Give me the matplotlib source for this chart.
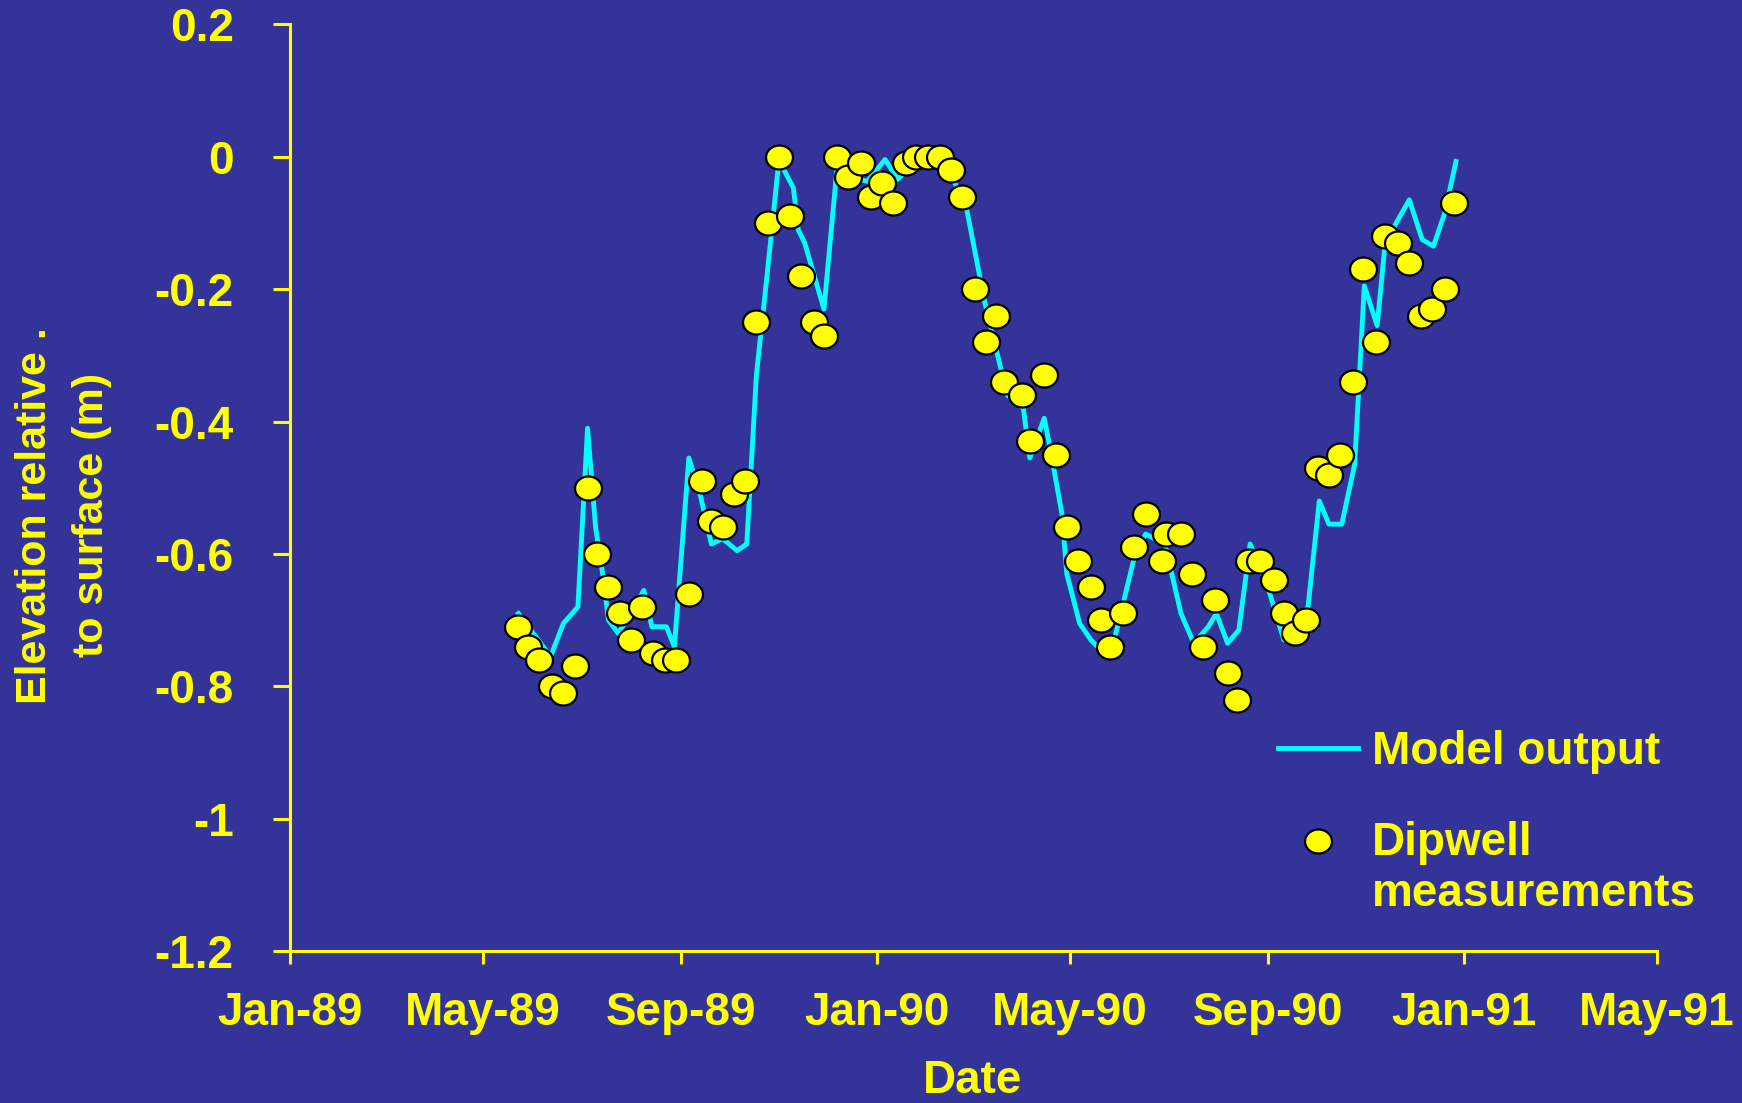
import matplotlib
matplotlib.use("Agg")
import matplotlib.pyplot as plt
import matplotlib.dates as mdates
import numpy as np
import pandas as pd

# colours from the slide
BG = "#333399"
YELLOW = "#FFFF00"
CYAN = "#00FFFF"

# model output (vertices of the simulated curve)
model_dates = [
    "1989-05-23", "1989-06-12", "1989-06-20", "1989-06-29", "1989-07-05", "1989-07-10",
    "1989-07-15", "1989-07-18", "1989-07-24", "1989-08-01", "1989-08-09", "1989-08-14",
    "1989-08-23", "1989-08-28", "1989-09-06", "1989-09-13", "1989-09-20", "1989-09-27",
    "1989-10-06", "1989-10-12", "1989-10-18", "1989-10-25", "1989-11-01", "1989-11-10",
    "1989-11-13", "1989-11-17", "1989-11-29", "1989-12-07", "1989-12-14", "1989-12-26",
    "1990-01-06", "1990-01-14", "1990-01-23", "1990-02-09", "1990-02-18", "1990-02-26",
    "1990-03-09", "1990-03-18", "1990-03-23", "1990-04-02", "1990-04-06", "1990-04-15",
    "1990-04-19", "1990-04-26", "1990-04-29", "1990-05-07", "1990-05-14", "1990-05-18",
    "1990-05-29", "1990-06-10", "1990-06-17", "1990-06-29", "1990-07-09", "1990-07-17",
    "1990-07-26", "1990-07-31", "1990-08-07", "1990-08-14", "1990-08-21", "1990-09-01",
    "1990-09-11", "1990-09-26", "1990-10-03", "1990-10-09", "1990-10-17", "1990-10-25",
    "1990-10-31", "1990-11-08", "1990-11-13", "1990-11-21", "1990-11-28", "1990-12-06",
    "1990-12-13", "1990-12-20", "1990-12-27",
]
model_level = [
    -0.69, -0.755, -0.705, -0.68, -0.41, -0.56,
    -0.64, -0.70, -0.72, -0.69, -0.655, -0.71,
    -0.71, -0.74, -0.455, -0.51, -0.585, -0.577,
    -0.595, -0.585, -0.33, -0.17, -0.005, -0.047,
    -0.11, -0.13, -0.23, -0.02, -0.03, -0.037,
    -0.004, -0.034, -0.01, -0.01, -0.037, -0.082,
    -0.22, -0.31, -0.36, -0.38, -0.455, -0.395,
    -0.445, -0.54, -0.63, -0.705, -0.73, -0.74,
    -0.725, -0.605, -0.57, -0.585, -0.69, -0.735,
    -0.71, -0.69, -0.735, -0.715, -0.585, -0.65,
    -0.73, -0.68, -0.52, -0.555, -0.555, -0.465,
    -0.195, -0.255, -0.13, -0.095, -0.065, -0.125,
    -0.135, -0.085, -0.007,
]

# dipwell readings
dip_dates = [
    "1989-05-23", "1989-05-29", "1989-06-05", "1989-06-13", "1989-06-20", "1989-06-27",
    "1989-07-05", "1989-07-11", "1989-07-18", "1989-07-25", "1989-08-01", "1989-08-08",
    "1989-08-15", "1989-08-22", "1989-08-29", "1989-09-06", "1989-09-14", "1989-09-20",
    "1989-09-27", "1989-10-04", "1989-10-11", "1989-10-18", "1989-10-25", "1989-11-01",
    "1989-11-08", "1989-11-15", "1989-11-23", "1989-11-29", "1989-12-07", "1989-12-14",
    "1989-12-22", "1989-12-28", "1990-01-04", "1990-01-11", "1990-01-19", "1990-01-25",
    "1990-02-02", "1990-02-09", "1990-02-16", "1990-02-23", "1990-03-03", "1990-03-10",
    "1990-03-16", "1990-03-21", "1990-04-01", "1990-04-06", "1990-04-15", "1990-04-22",
    "1990-04-29", "1990-05-06", "1990-05-14", "1990-05-20", "1990-05-26", "1990-06-03",
    "1990-06-10", "1990-06-17", "1990-06-27", "1990-06-30", "1990-07-09", "1990-07-16",
    "1990-07-23", "1990-07-30", "1990-08-07", "1990-08-13", "1990-08-20", "1990-08-27",
    "1990-09-05", "1990-09-11", "1990-09-18", "1990-09-25", "1990-10-02", "1990-10-09",
    "1990-10-16", "1990-10-24", "1990-10-30", "1990-11-07", "1990-11-13", "1990-11-21",
    "1990-11-28", "1990-12-05", "1990-12-12", "1990-12-20", "1990-12-26",
]
dip_level = [
    -0.71, -0.74, -0.76, -0.80, -0.81, -0.77,
    -0.50, -0.60, -0.65, -0.69, -0.73, -0.68,
    -0.75, -0.76, -0.76, -0.66, -0.49, -0.55,
    -0.56, -0.51, -0.49, -0.25, -0.10, 0.00,
    -0.09, -0.18, -0.25, -0.27, 0.00, -0.03,
    -0.01, -0.06, -0.04, -0.07, -0.01, 0.00,
    0.00, 0.00, -0.02, -0.06, -0.20, -0.28,
    -0.24, -0.34, -0.36, -0.43, -0.33, -0.45,
    -0.56, -0.61, -0.65, -0.70, -0.74, -0.69,
    -0.59, -0.54, -0.61, -0.57, -0.57, -0.63,
    -0.74, -0.67, -0.78, -0.82, -0.61, -0.61,
    -0.64, -0.69, -0.72, -0.70, -0.47, -0.48,
    -0.45, -0.34, -0.17, -0.28, -0.12, -0.13,
    -0.16, -0.24, -0.23, -0.20, -0.07,
]

y_ticks = [0.2, 0, -0.2, -0.4, -0.6, -0.8, -1, -1.2]
y_tick_labels = ["0.2", "0", "-0.2", "-0.4", "-0.6", "-0.8", "-1", "-1.2"]

FS = 33
plt.rcParams['font.family'] = ['Liberation Sans', 'DejaVu Sans']
plt.rcParams['font.weight'] = 'bold'

# slightly squashed circle, like the old excel markers
t = np.linspace(0, 2 * np.pi, 60)
ellipse = np.column_stack([np.cos(t), 0.89 * np.sin(t)])

fig = plt.figure(figsize=(17.42, 11.03), dpi=100, facecolor=BG)
ax = fig.add_axes([0.1665, 0.1378, 0.7847, 0.840], facecolor=BG)

ax.plot(pd.to_datetime(model_dates), model_level, color=CYAN, lw=3.5,
        solid_joinstyle='round', label="Model output", zorder=2)
ax.scatter(pd.to_datetime(dip_dates), dip_level, marker=ellipse, s=19.4 ** 2,
           c=YELLOW, edgecolors='black', linewidths=1.6,
           label="Dipwell\nmeasurements", zorder=3)

ax.set_xlim(pd.Timestamp("1989-01-01"), pd.Timestamp("1991-05-01"))
ax.set_ylim(-1.2, 0.2)
ax.xaxis.set_major_locator(mdates.MonthLocator(bymonth=[1, 5, 9]))
ax.xaxis.set_major_formatter(mdates.DateFormatter('%b-%y'))
ax.set_yticks(y_ticks)
ax.set_yticklabels(y_tick_labels)

for side in ['top', 'right']:
    ax.spines[side].set_visible(False)
for side in ['left', 'bottom']:
    ax.spines[side].set_color(YELLOW)
    ax.spines[side].set_linewidth(2.2)

ax.tick_params(axis='y', direction='out', length=12.5, width=2.2, color=YELLOW,
               labelcolor=YELLOW, labelsize=FS, pad=28)
ax.tick_params(axis='x', direction='out', length=9.5, width=2.2, color=YELLOW,
               labelcolor=YELLOW, labelsize=FS, pad=19)
for lab in ax.get_xticklabels() + ax.get_yticklabels():
    lab.set_fontweight('bold')

fig.text(0.0366, 0.533, "Elevation relative .\nto surface (m)", rotation=90,
         ha='center', va='center', color=YELLOW, fontsize=31, fontweight='bold',
         linespacing=1.55, multialignment='center')
fig.text(0.5585, 0.0195, "Date", ha='center', va='center', color=YELLOW,
         fontsize=FS, fontweight='bold')

leg = ax.legend(loc='upper left', bbox_to_anchor=(0.7227, 0.2386), frameon=False,
                fontsize=FS, handlelength=1.75, handletextpad=0.31,
                labelspacing=1.03, borderaxespad=0, borderpad=0,
                scatterpoints=1, scatteryoffsets=[1.4])
for txt in leg.get_texts():
    txt.set_color(YELLOW)
    txt.set_fontweight('bold')

fig.savefig("out.png", dpi=100, facecolor=BG)
